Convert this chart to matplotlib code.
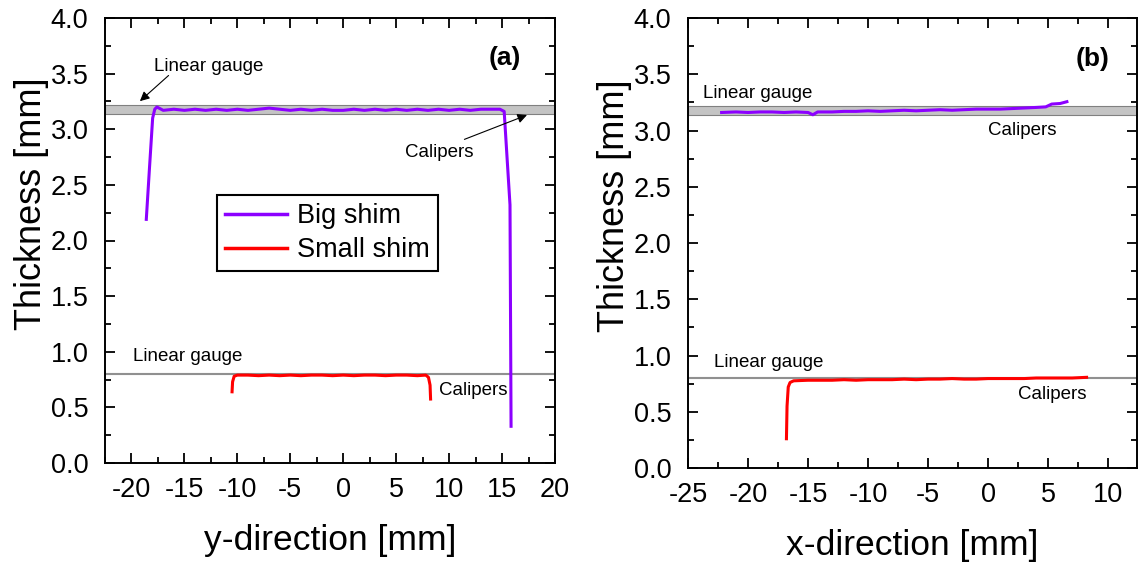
import matplotlib
matplotlib.use("Agg")
import matplotlib.pyplot as plt
from matplotlib.ticker import MultipleLocator

plt.rcParams['font.family'] = ['Liberation Sans', 'DejaVu Sans']

PURPLE = '#8C00FF'
RED = '#FF0000'

# ---- Panel (a): y-direction ----
a_big_x = [-18.6, -18.3, -18.0, -17.8, -17.6, -17.0, -16.0, -15.0, -14.0, -13.0, -12.0, -11.0,
           -10.0, -9.0, -8.0, -7.0, -6.0, -5.0, -4.0, -3.0, -2.0, -1.0, 0.0, 1.0, 2.0, 3.0,
           4.0, 5.0, 6.0, 7.0, 8.0, 9.0, 10.0, 11.0, 12.0, 13.0, 14.0, 14.8, 15.2, 15.75, 15.85]
a_big_y = [2.19, 2.65, 3.10, 3.18, 3.20, 3.17, 3.18, 3.17, 3.18, 3.17, 3.18, 3.17,
           3.18, 3.17, 3.18, 3.19, 3.18, 3.17, 3.18, 3.17, 3.18, 3.17, 3.17, 3.18, 3.17, 3.18,
           3.17, 3.18, 3.17, 3.18, 3.17, 3.18, 3.17, 3.18, 3.17, 3.18, 3.18, 3.18, 3.16, 2.32, 0.33]

a_small_x = [-10.5, -10.45, -10.3, -10.0, -9.0, -8.0, -7.0, -6.0, -5.0, -4.0, -3.0, -2.0, -1.0,
             0.0, 1.0, 2.0, 3.0, 4.0, 5.0, 6.0, 7.0, 7.8, 8.05, 8.2, 8.25]
a_small_y = [0.64, 0.73, 0.78, 0.79, 0.79, 0.785, 0.79, 0.785, 0.79, 0.785, 0.79, 0.79, 0.785,
             0.79, 0.785, 0.79, 0.79, 0.785, 0.79, 0.79, 0.785, 0.79, 0.77, 0.70, 0.575]

# ---- Panel (b): x-direction ----
b_big_x = [-22.2, -21.0, -20.0, -19.0, -18.0, -17.0, -16.0, -15.0, -14.6, -14.2, -13.0, -12.0,
           -11.0, -10.0, -9.0, -8.0, -7.0, -6.0, -5.0, -4.0, -3.0, -2.0, -1.0, 0.0, 1.0,
           2.0, 3.0, 4.0, 4.8, 5.3, 6.0, 6.56]
b_big_y = [3.16, 3.165, 3.16, 3.165, 3.165, 3.16, 3.165, 3.16, 3.14, 3.165, 3.165, 3.17,
           3.17, 3.175, 3.17, 3.175, 3.18, 3.175, 3.18, 3.185, 3.18, 3.185, 3.19, 3.19, 3.19,
           3.195, 3.20, 3.205, 3.21, 3.235, 3.24, 3.256]

b_small_x = [-16.8, -16.75, -16.65, -16.5, -16.2, -15.0, -14.0, -13.0, -12.0, -11.0, -10.0,
             -9.0, -8.0, -7.0, -6.0, -5.0, -4.0, -3.0, -2.0, -1.0, 0.0, 1.0, 2.0, 3.0, 4.0,
             5.0, 6.0, 7.0, 8.2]
b_small_y = [0.26, 0.55, 0.72, 0.76, 0.775, 0.78, 0.78, 0.78, 0.785, 0.78, 0.785, 0.785,
             0.785, 0.79, 0.785, 0.79, 0.79, 0.795, 0.79, 0.79, 0.795, 0.795, 0.795, 0.795,
             0.80, 0.80, 0.80, 0.80, 0.806]

big_band = (3.14, 3.22)
small_band = (0.797, 0.81)

x_ticks_a = [-20, -15, -10, -5, 0, 5, 10, 15, 20]
x_ticks_b = [-25, -20, -15, -10, -5, 0, 5, 10]
y_ticks = [0.0, 0.5, 1.0, 1.5, 2.0, 2.5, 3.0, 3.5, 4.0]

fig = plt.figure(figsize=(11.38, 5.67), dpi=100)
ax_a = fig.add_axes([105/1138, (567-463)/567, 450/1138, 445/567])
ax_b = fig.add_axes([688/1138, (567-468)/567, 449/1138, 450/567])

TICKFS = 19.5
NOTEFS = 13.5


def style(ax, xlim, xticks, xlabel):
    ax.set_xlim(*xlim)
    ax.set_ylim(0, 4.0)
    ax.set_xticks(xticks)
    ax.set_yticks(y_ticks)
    ax.set_xticklabels([str(t) for t in xticks])
    ax.set_yticklabels([f"{t:.1f}" for t in y_ticks])
    ax.xaxis.set_minor_locator(MultipleLocator(2.5))
    ax.yaxis.set_minor_locator(MultipleLocator(0.25))
    ax.tick_params(which='both', direction='in', top=True, right=True, width=1.3,
                   labelsize=TICKFS, color='black')
    ax.tick_params(which='major', length=7)
    ax.tick_params(which='minor', length=4)
    ax.tick_params(axis='x', which='major', pad=10)
    ax.tick_params(axis='y', which='major', pad=12)
    for s in ax.spines.values():
        s.set_linewidth(1.4)
    ax.set_xlabel(xlabel, fontsize=25.5, labelpad=15)
    ax.set_ylabel('Thickness [mm]', fontsize=26, labelpad=1)
    ax.yaxis.label.set_y(0.583)


def bands(ax):
    ax.axhspan(*big_band, facecolor='#c4c4c4', edgecolor='#808080', lw=0.8, zorder=1)
    ax.axhspan(*small_band, facecolor='#c4c4c4', edgecolor='#909090', lw=0.8, zorder=1)


# Panel (a)
bands(ax_a)
ax_a.plot(a_big_x, a_big_y, color=PURPLE, lw=2.2, label='Big shim', zorder=3)
ax_a.plot(a_small_x, a_small_y, color=RED, lw=2.2, label='Small shim', zorder=3)
style(ax_a, (-22.5, 20.0), x_ticks_a, 'y-direction [mm]')
leg = ax_a.legend(loc='upper left', bbox_to_anchor=(0.249, 0.602), borderaxespad=0,
                  fontsize=19.5, fancybox=False, framealpha=1, edgecolor='black',
                  handlelength=2.3, handletextpad=0.35, borderpad=0.3, labelspacing=0.3)
leg.get_frame().set_linewidth(1.5)
for h in leg.get_lines():
    h.set_linewidth(2.5)

arrow = dict(arrowstyle='-|>', color='black', lw=0.8, mutation_scale=14)
ax_a.annotate('', xy=(-19.4, 3.236), xytext=(-16.3, 3.50), arrowprops=arrow, zorder=4)
ax_a.annotate('', xy=(17.6, 3.137), xytext=(11.2, 2.90), arrowprops=arrow, zorder=4)
ax_a.text(-17.9, 3.56, 'Linear gauge', fontsize=NOTEFS, va='center', ha='left')
ax_a.text(5.85, 2.79, 'Calipers', fontsize=NOTEFS, va='center', ha='left')
ax_a.text(-19.9, 0.953, 'Linear gauge', fontsize=NOTEFS, va='center', ha='left')
ax_a.text(9.06, 0.656, 'Calipers', fontsize=NOTEFS, va='center', ha='left')
ax_a.text(15.3, 3.64, '(a)', fontsize=19, fontweight='bold', va='center', ha='center')

# Panel (b)
bands(ax_b)
ax_b.plot(b_big_x, b_big_y, color=PURPLE, lw=2.2, zorder=3)
ax_b.plot(b_small_x, b_small_y, color=RED, lw=2.2, zorder=3)
style(ax_b, (-25, 12.4), x_ticks_b, 'x-direction [mm]')
ax_b.text(-23.75, 3.333, 'Linear gauge', fontsize=NOTEFS, va='center', ha='left')
ax_b.text(0.0, 3.0, 'Calipers', fontsize=NOTEFS, va='center', ha='left')
ax_b.text(-22.8, 0.942, 'Linear gauge', fontsize=NOTEFS, va='center', ha='left')
ax_b.text(2.5, 0.649, 'Calipers', fontsize=NOTEFS, va='center', ha='left')
ax_b.text(8.7, 3.64, '(b)', fontsize=19, fontweight='bold', va='center', ha='center')

fig.savefig('out.png', dpi=100)
